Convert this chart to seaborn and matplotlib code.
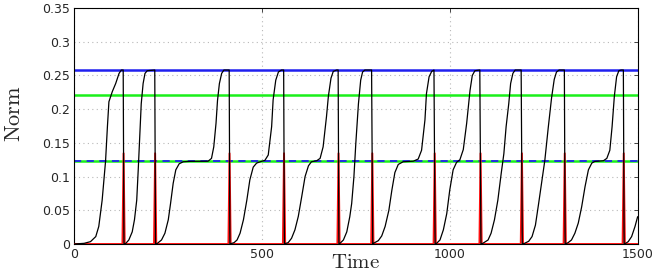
import numpy as np
import pandas as pd
import matplotlib
matplotlib.use('Agg')
import matplotlib.pyplot as plt
import seaborn as sns

# ----------------------------------------------------------------------------
# values
# ----------------------------------------------------------------------------
# black norm trajectory, one row per cycle (time, norm)
norm_time = [
    0, 27, 44, 58, 66, 75, 84, 89, 93, 102, 111, 120, 126, 131, 133,
    138, 146, 155, 161, 167, 171, 175, 179, 184, 189, 195, 215, 217,
    222, 233, 242, 251, 257, 264, 271, 280, 291, 309, 357, 366, 372, 378, 382, 387, 393, 399, 413, 415,
    420, 426, 434, 442, 451, 460, 468, 477, 486, 499, 508, 517, 522, 526, 530, 537, 544, 552, 558, 560,
    564, 570, 579, 588, 597, 606, 615, 624, 632, 646, 655, 663, 672, 677, 684, 690, 699, 703, 705,
    708, 717, 726, 734, 739, 745, 750, 757, 763, 768, 774, 792, 795,
    797, 810, 819, 828, 838, 846, 854, 863, 876, 903, 916, 925, 934, 938, 945, 952, 958, 961,
    965, 974, 983, 992, 1000, 1009, 1018, 1027, 1036, 1045, 1054, 1060, 1067, 1080, 1083,
    1088, 1102, 1110, 1119, 1128, 1137, 1144, 1150, 1157, 1162, 1168, 1174, 1190, 1193,
    1199, 1210, 1219, 1228, 1236, 1245, 1253, 1262, 1271, 1278, 1284, 1291, 1305, 1307,
    1315, 1324, 1333, 1342, 1351, 1360, 1369, 1378, 1386, 1409, 1418, 1426, 1432, 1438, 1444, 1450, 1456, 1462, 1464,
    1468, 1475, 1484, 1493, 1500,
]
norm_value = [
    0.0, 0.001, 0.0035, 0.011, 0.026, 0.065, 0.1225, 0.174, 0.211, 0.226, 0.238, 0.253, 0.258, 0.258, 0.0,
    0.001, 0.006, 0.018, 0.036, 0.065, 0.110, 0.159, 0.208, 0.238, 0.253, 0.257, 0.258, 0.0,
    0.001, 0.006, 0.016, 0.036, 0.060, 0.090, 0.110, 0.119, 0.122, 0.1226, 0.1228, 0.127, 0.144, 0.179, 0.213, 0.238, 0.253, 0.258, 0.258, 0.0,
    0.001, 0.002, 0.006, 0.016, 0.036, 0.065, 0.095, 0.114, 0.120, 0.1226, 0.124, 0.132, 0.155, 0.174, 0.214, 0.243, 0.255, 0.258, 0.258, 0.0,
    0.001, 0.002, 0.0085, 0.021, 0.041, 0.070, 0.100, 0.116, 0.122, 0.1235, 0.127, 0.144, 0.189, 0.219, 0.246, 0.256, 0.258, 0.258, 0.0,
    0.001, 0.006, 0.018, 0.0405, 0.060, 0.100, 0.149, 0.208, 0.243, 0.255, 0.258, 0.258, 0.0,
    0.001, 0.005, 0.012, 0.026, 0.050, 0.080, 0.106, 0.118, 0.122, 0.1228, 0.126, 0.139, 0.184, 0.223, 0.248, 0.256, 0.258, 0.0,
    0.001, 0.006, 0.021, 0.045, 0.080, 0.110, 0.121, 0.125, 0.140, 0.179, 0.228, 0.250, 0.257, 0.258, 0.0,
    0.001, 0.006, 0.016, 0.036, 0.065, 0.105, 0.134, 0.174, 0.208, 0.238, 0.253, 0.258, 0.258, 0.0,
    0.001, 0.004, 0.011, 0.028, 0.058, 0.093, 0.124, 0.172, 0.217, 0.244, 0.255, 0.258, 0.258, 0.0,
    0.002, 0.006, 0.016, 0.031, 0.055, 0.085, 0.110, 0.120, 0.1225, 0.1235, 0.127, 0.139, 0.174, 0.219, 0.248, 0.257, 0.258, 0.258, 0.0,
    0.001, 0.0035, 0.011, 0.026, 0.0405,
]

# red spikes at every reset
spike_times = [132, 216, 414, 559, 704, 794, 960, 1082, 1192, 1306, 1463]
spike_height = 0.1345

# reference levels
upper_level = 0.258    # blue solid
mid_level = 0.2214     # green solid
low_level = 0.1226     # green solid under blue dashed

x_ticks = [0, 500, 1000, 1500]
y_ticks = [0, 0.05, 0.1, 0.15, 0.2, 0.25, 0.3, 0.35]
y_tick_labels = ['0', '0.05', '0.1', '0.15', '0.2', '0.25', '0.3', '0.35']

# ----------------------------------------------------------------------------
# build tables
# ----------------------------------------------------------------------------
norm_df = pd.DataFrame({'time': norm_time, 'norm': norm_value})

red_t, red_y = [0], [0.0]
for t in spike_times:
    red_t += [t - 3, t, t + 3]
    red_y += [0.0, spike_height, 0.0]
red_t.append(1500)
red_y.append(0.0)
spike_df = pd.DataFrame({'time': red_t, 'norm': red_y})

# ----------------------------------------------------------------------------
# figure
# ----------------------------------------------------------------------------
sns.set_style('white')
plt.rcParams['font.family'] = ['DejaVu Sans']
plt.rcParams['mathtext.fontset'] = 'cm'

fig = plt.figure(figsize=(6.64, 2.73), dpi=100)
ax = fig.add_axes([0.1114, 0.1062, 0.8489, 0.8645])

blue = '#2020f0'
green = '#1af01a'

ax.axhline(upper_level, color=blue, linewidth=1.8, zorder=2)
ax.axhline(mid_level, color=green, linewidth=1.8, zorder=2)
ax.axhline(low_level, color=green, linewidth=1.8, zorder=2)
ax.axhline(low_level, color=blue, linewidth=1.3, linestyle=(0, (4, 3)), zorder=2.1)

sns.lineplot(data=spike_df, x='time', y='norm', color='#ff1010', linewidth=1.4,
             sort=False, estimator=None, ax=ax, zorder=3)
sns.lineplot(data=norm_df, x='time', y='norm', color='black', linewidth=0.9,
             sort=False, estimator=None, ax=ax, zorder=4)

ax.set_xlim(0, 1500)
ax.set_ylim(0, 0.35)
ax.set_xticks(x_ticks)
ax.set_xticklabels([str(v) for v in x_ticks])
ax.set_yticks(y_ticks)
ax.set_yticklabels(y_tick_labels)
ax.tick_params(direction='in', top=True, right=True, length=3, width=0.6,
               labelsize=9, pad=3)
ax.grid(True, linestyle=(0, (1, 3)), color='#b8b8b8', linewidth=0.8)
ax.set_axisbelow(True)
for s in ax.spines.values():
    s.set_color('black')
    s.set_linewidth(0.8)

ax.set_xlabel(r'$\mathrm{Time}$', fontsize=15)
ax.xaxis.set_label_coords(0.5, -0.035)
ax.set_ylabel(r'$\mathrm{Norm}$', fontsize=16)
ax.yaxis.set_label_coords(-0.088, 0.55)

fig.savefig('out.png', dpi=100)
plt.close(fig)
